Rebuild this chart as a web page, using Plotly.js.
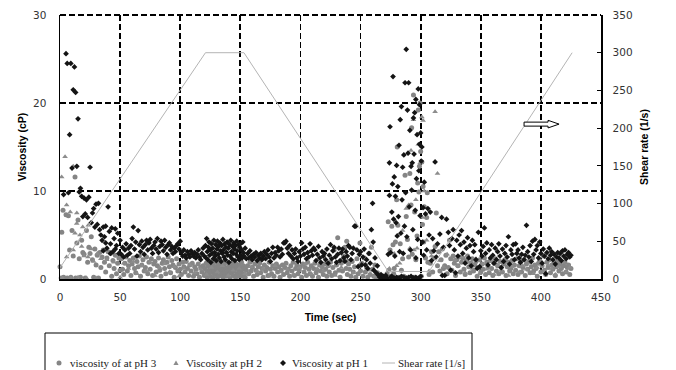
<!DOCTYPE html>
<html>
<head>
<meta charset="utf-8">
<script src="https://cdn.plot.ly/plotly-3.0.1.min.js"></script>
<style>
  html, body { margin: 0; padding: 0; background: #fff; }
  #chart { width: 676px; height: 370px; }
</style>
</head>
<body>
<div id="chart"></div>
<script>
// Viscosity readings [time (s), viscosity (cP)] for each pH, plus the applied shear-rate profile.
const viscosityPh3 = [
  [0,1.4],[1,0.1],[1.5,5.3],[2.5,7.8],[3,0.2],[5,7.3],[6,0.1],[7,7.2],[8,3.3],[9,0.2],[10,5.5],[11,2.6],[12.5,11.6],[13,0.1],[14,4.1],[15,6.7],[16,2.3],[17,0.2],[18,4.4],[19,3.0],
  [20,2.8],[21,0.1],[22,5.5],[23,1.9],[24,3.6],[25,2.9],[26,4.8],[27,2.2],[28,0.2],[29,3.4],[30,1.6],[31,2.7],[32,0.1],[33,3.0],[34,1.3],[35,2.5],[36,3.3],[37,1.9],[38,0.8],[39,2.4],
  [40,3.1],[41,1.5],[42,2.9],[43,0.3],[44,2.1],[45,1.2],[46,2.7],[47,0.6],[48,1.8],[49,2.4],[50,1.0],
  [51,2.3],[52,1.1],[53,0.5],[54,1.8],[55,2.5],[56,0.9],[57,1.5],[58,2.1],[59,0.4],[60,1.7],[61,2.4],[62,1.2],[63,0.7],[64,2.0],[65,1.4],[66,2.6],[67,0.3],[68,1.6],[69,2.2],[70,0.9],
  [71,1.3],[72,2.5],[73,0.6],[74,1.9],[75,1.1],[76,2.3],[77,0.4],[78,1.7],[79,2.0],[80,0.8],[81,1.5],[82,2.4],[83,1.0],[84,0.3],[85,1.8],[86,2.2],[87,1.2],[88,0.6],[89,1.9],[90,2.5],
  [91,1.4],[92,0.7],[93,2.1],[94,1.6],[95,0.2],[96,1.3],[97,2.3],[98,0.9],[99,1.7],[100,1.1],[101,0.5],[102,1.9],[103,1.4],[104,0.8],[105,2.0],[106,1.2],[107,0.4],[108,1.6],[109,0.9],[110,1.8],
  [111,0.3],[112,1.4],[113,1.1],[114,0.6],[115,1.7],[116,0.2],[117,1.3],[118,0.8],[119,1.5],[120,0.4],
  [120.5,1.2],[121,0.5],[121.5,1.8],[122,0.9],[122.5,0.2],[123,1.5],[123.5,0.7],[124,1.9],[124.5,1.1],[125,0.3],[125.5,1.6],[126,0.8],[126.5,1.3],[127,0.1],[127.5,1.7],[128,1.0],[128.5,0.5],[129,1.4],[129.5,2.0],[130,0.6],
  [130.5,1.2],[131,0.2],[131.5,1.6],[132,0.9],[132.5,1.4],[133,0.4],[133.5,1.8],[134,1.0],[134.5,0.6],[135,1.5],[135.5,0.2],[136,1.1],[136.5,1.7],[137,0.7],[137.5,1.3],[138,0.3],[138.5,1.9],[139,0.8],[139.5,1.2],[140,0.5],
  [140.5,1.6],[141,1.0],[141.5,0.1],[142,1.4],[142.5,0.7],[143,1.8],[143.5,1.1],[144,0.4],[144.5,1.5],[145,0.9],[145.5,1.3],[146,0.2],[146.5,1.7],[147,0.6],[147.5,1.2],[148,0.3],[148.5,1.6],[149,1.0],[149.5,0.5],[150,1.4],
  [150.5,0.8],[151,1.9],[151.5,0.3],[152,1.1],[152.5,1.5],[153,0.6],[153.5,1.2],[154,0.2],[155,1.0],
  [156,1.5],[157,0.6],[158,1.9],[159,0.9],[160,1.3],[161,0.3],[162,1.7],[163,1.0],[164,0.5],[165,1.4],[166,1.8],[167,0.7],[168,1.2],[169,0.2],[170,1.6],[171,0.9],[172,1.3],[173,0.4],[174,1.9],[175,1.1],
  [176,0.6],[177,1.5],[178,0.3],[179,1.2],[180,1.7],[181,0.8],[182,1.4],[183,0.2],[184,1.0],[185,1.6],[186,0.5],[187,1.3],[188,1.8],[189,0.7],[190,1.1],[191,0.3],[192,1.5],[193,0.9],[194,1.9],[195,0.4],
  [196,1.2],[197,1.6],[198,0.6],[199,1.0],[200,1.4],[201,0.2],[202,1.7],[203,0.8],[204,1.3],[205,0.4],[206,1.9],[207,1.1],[208,0.6],[209,1.5],[210,0.3],[211,1.2],[212,1.8],[213,0.7],[214,1.0],[215,0.2],
  [216,1.6],[217,0.9],[218,1.4],[219,0.5],[220,1.7],[221,1.1],[222,0.3],[223,1.5],[224,0.8],[225,1.9],[226,0.4],[227,1.3],[228,3.3],[229,0.7],[230,1.6],[231,4.7],[232,1.0],[233,0.2],[234,1.8],[235,0.9],
  [236,2.6],[237,3.6],[238,1.2],[238.5,4.3],[239,0.5],[240,1.7],[241,1.1],[242,0.3],[243,2.0],[244,0.8],[245,1.4],[246,0.2],[247,2.3],[248,0.6],[249,1.5],[249.5,4.1],[250,0.9],
  [251,1.8],[252,0.3],[253,2.4],[254,0.8],[255,1.3],[256,0.2],[257,2.9],[258,0.5],[259,3.6],[260,1.1],[261,0.3],[262,1.6],[263,0.1],[264,0.7],[265,0.2],[266,0.4],[267,0.1],[268,0.3],[269,0.1],[270,0.2],
  [271,0.1],[272,0.6],[273,6.5],[273.5,1.0],[274,0.2],[274.5,3.3],
  [275,0.3],[276,6.0],[277,3.9],[277.5,0.6],[278,1.2],[279,4.2],[280,9.0],[280.5,15.0],[281,6.1],[282,0.2],[283,4.0],[284,1.0],[285,2.3],[286,0.3],[287,11.8],[288,7.1],[288.5,0.1],[289,4.5],[290,2.5],[291,12.0],
  [292,8.4],[292.5,17.2],[293,2.8],[294,20.9],[294.5,0.2],[295,7.6],[296,2.2],[297,4.9],[297.5,10.9],[298,19.2],[298.5,9.9],[299,12.8],[299.5,20.0],[300,14.5],[300.5,0.3],[301,13.3],[301.5,6.2],[302,10.5],[302.5,4.2],[303,8.2],
  [304,2.4],[305,7.0],[305.5,9.8],[306,1.9],[307,0.5],[308,1.8],[309,3.1],[310,0.8],
  [311,2.4],[312,3.7],[313,7.5],[314,1.5],[315,3.1],[316,0.9],[317,2.2],[318,3.4],[319,1.2],[320,1.5],[321,2.7],[322,0.6],[323,1.3],[324,4.4],[325,2.3],[326,1.0],[327,2.6],[328,1.8],[329,0.4],[330,2.2],
  [331,1.5],[332,2.5],[333,0.8],[334,1.9],[335,2.4],[336,1.1],[337,0.5],[338,2.1],[339,2.6],[340,1.4],[341,0.7],[342,1.8],[343,2.3],[344,0.9],[345,1.6],[346,2.0],[347,0.3],[348,1.3],[349,2.2],[350,0.8],
  [351,1.7],[352,1.1],[353,2.4],[354,0.5],[355,1.9],[356,1.4],[357,0.7],[358,2.1],[359,1.2],[360,0.4],[361,1.8],[362,2.3],[363,0.9],[364,1.5],[365,0.6],[366,2.0],[367,1.3],[368,0.8],[369,1.7],[370,2.2],
  [371,0.4],[372,1.4],[373,1.9],[374,0.9],[375,1.2],[376,2.1],[377,0.6],[378,1.6],[379,1.0],[380,2.3],[381,0.5],[382,1.5],[383,1.9],[384,0.8],[385,1.3],[386,2.2],[387,0.4],[388,1.7],[389,1.1],[390,2.0],
  [391,0.7],[392,1.4],[393,2.4],[394,0.9],[395,1.6],[396,1.2],[397,0.3],[398,1.8],[399,2.1],[400,0.8],[401,1.5],[402,2.6],[403,1.0],[404,0.5],[405,1.9],[406,1.3],[407,2.2],[408,0.7],[409,1.6],[410,1.1],
  [411,1.9],[412,0.4],[413,1.4],[414,2.0],[415,0.9],[416,1.7],[417,1.2],[418,0.6],[419,1.5],[420,1.9],[421,0.8],[422,1.3],[423,1.6],[424,0.5],[425,1.2]
];

const viscosityPh2 = [
  [1.4,11.6],[2,0.1],[4.2,13.9],[5.5,8.4],[5.5,2.5],[8.5,7.6],[9,0.1],[11,12.8],[11,3.3],[12.5,5.2],[13.9,6.3],[14,7.5],[15,0.2],[16.6,5.0],[18,3.7],[18.9,5.9],[20,2.6],[22,0.1],[23.3,2.5],[23.5,6.1],
  [26,3.4],[28,2.0],[30,0.1],[31,2.9],[34,2.3],[37,3.2],[39,2.2],[42,3.0],[45,1.9],[48,2.6],[50,0.2],[53,1.8],[57,1.2],[61,2.0],[64,0.6],[68,1.5],[72,0.9],[75,1.9],[79,0.4],[83,1.3],
  [87,1.7],[91,0.8],[95,1.4],[99,0.3],[103,1.2],[108,1.6],[112,0.7],[117,1.1],[122,0.5],[126,1.3],[131,0.8],[135,1.5],[140,0.4],[144,1.0],[149,1.2],[154,0.6],[159,1.4],[164,0.9],[169,1.2],[174,0.3],
  [179,1.5],[184,0.8],[189,1.1],[194,0.5],[199,1.3],[204,1.7],[209,0.6],[214,1.2],[219,0.9],[224,1.5],[229,0.4],[234,1.3],[239,2.1],[244,0.7],[249,1.6],[254,2.4],[258,1.0],[262,0.3],[266,0.1],[270,0.2],
  [274,1.2],[278,2.9],[280,1.5],[282.5,1.8],[285,5.5],[288,8.0],[290,8.4],[291,3.5],[292,14.6],[294,18.1],[294.5,3.3],[296,9.0],[297,3.5],[298,15.3],[299.6,13.2],[301,18.4],[301.5,7.0],[302,18.0],[303,10.0],[305,4.4],
  [307,0.9],[309,2.6],[312,19.0],[314,12.0],[316,2.1],[319,1.4],[322,2.8],[325,0.9],[328,2.2],[331,1.5],[334,2.5],[337,0.7],[340,1.9],[343,1.2],[346,2.3],[349,0.6],[352,1.7],[355,1.1],[358,2.0],[361,0.5],
  [364,1.6],[367,1.0],[370,1.9],[373,0.4],[376,1.4],[379,2.2],[382,0.8],[385,1.5],[388,1.1],[391,1.8],[394,0.6],[397,1.3],[400,2.0],[403,0.9],[406,1.6],[409,1.2],[412,0.5],[415,1.4],[418,1.9],[421,0.8],
  [424,1.3]
];

const viscosityPh1 = [
  [3,9.6],[5,25.6],[6,24.5],[7,9.8],[8,16.4],[9,24.5],[10,12.6],[11,21.5],[12,24.1],[13,21.2],[14,12.8],[15,18.2],[16,9.9],[17,10.3],[18,9.4],[19,7.1],[20,9.2],[21,7.4],[22,9.0],[23,7.0],
  [24,9.3],[25,12.7],[26,6.4],[27,7.5],[28,8.0],[29,5.9],[30,8.5],[31,6.2],[32,8.6],[33,5.6],[34,5.0],[35,4.4],[36,5.9],[36,3.2],[37,4.8],[38,6.0],[38,4.1],[39,3.5],[40,8.2],[41,5.4],
  [42,4.0],[42,2.9],[43,5.8],[44,3.1],[45,4.6],[46,5.7],[46,3.4],[47,3.8],[48,5.2],[49,2.9],[50,4.4],
  [51,2.8],[52,3.6],[53,2.5],[54,3.3],[55,4.0],[56,2.7],[57,3.5],[58,2.9],[59,3.8],[60,4.6],[61,5.9],[62,3.4],[63,4.2],[64,2.6],[65,5.5],[66,3.9],[67,3.1],[68,4.3],[69,3.6],[70,2.8],
  [71,3.9],[72,4.4],[73,3.3],[74,4.1],[75,4.5],[76,3.5],[77,2.9],[78,3.8],[79,4.2],[80,3.4],[81,4.6],[82,3.0],[83,3.7],[84,4.3],[85,3.9],[86,3.2],[87,4.4],[88,3.6],[89,2.8],[90,3.9],
  [91,4.1],[92,3.3],[93,3.7],[94,2.9],[95,3.5],[96,3.1],[97,3.8],[98,4.0],[99,3.4],[100,4.3],[101,3.0],[102,2.6],[103,3.3],[104,2.7],[105,2.4],[106,3.1],[107,2.8],[108,2.5],[109,3.2],[110,2.9],
  [111,2.6],[112,3.0],[113,2.4],[114,2.8],[115,3.3],[116,2.5],[117,2.2],[118,2.9],[119,3.5],[120,2.6],
  [121,3.8],[121.5,2.4],[122,4.6],[122.5,3.1],[123,2.2],[123.5,3.6],[124,4.2],[124.5,2.7],[125,3.3],[125.5,1.9],[126,4.0],[126.5,2.9],[127,3.5],[127.5,2.3],[128,4.4],[128.5,3.0],[129,2.6],[129.5,3.9],[130,2.1],[130.5,3.4],
  [131,4.3],[131.5,2.8],[132,3.7],[132.5,2.4],[133,4.1],[133.5,3.2],[134,2.0],[134.5,3.8],[135,2.9],[135.5,4.5],[136,3.3],[136.5,2.5],[137,4.0],[137.5,2.2],[138,3.6],[138.5,3.0],[139,4.2],[139.5,2.7],[140,3.5],[140.5,1.9],
  [141,3.9],[141.5,2.6],[142,4.4],[142.5,3.1],[143,2.3],[143.5,3.7],[144,2.9],[144.5,4.1],[145,3.4],[145.5,2.1],[146,3.8],[146.5,2.8],[147,4.3],[147.5,3.2],[148,2.5],[148.5,3.9],[149,2.2],[149.5,3.6],[150,4.0],[150.5,2.7],
  [151,3.3],[151.5,2.4],[152,4.2],[152.5,3.0],[153,2.6],[154,3.5],[155,2.3],
  [156,2.9],[157,2.4],[158,3.2],[159,2.6],[160,2.2],[161,2.8],[162,2.5],[163,3.0],[164,2.1],[165,2.7],[166,2.4],[167,2.9],[168,2.2],[169,2.6],[170,3.1],[171,2.3],[172,2.8],[173,3.3],[174,2.5],[175,2.0],
  [176,2.9],[177,3.6],[178,2.4],[179,3.0],[180,2.7],[181,3.6],[182,3.2],[183,2.5],[184,3.4],[185,2.8],[186,4.1],[187,4.1],[188,4.3],[189,3.5],[190,2.9],[191,3.8],[192,2.6],[193,3.3],[194,2.3],[195,2.9],
  [196,3.4],[197,2.4],[198,2.0],[199,3.1],[200,2.6],
  [201,4.1],[202,3.4],[203,2.8],[204,3.6],[205,2.3],[206,3.0],[207,2.5],[208,4.0],[209,3.2],[210,2.7],[211,3.5],[212,3.3],[213,2.1],[214,2.8],[215,3.7],[216,2.4],[217,1.9],[218,3.1],[219,2.6],[220,2.9],
  [221,2.2],[222,3.4],[223,1.8],[224,2.7],[225,3.9],[226,2.3],[227,3.2],[228,3.6],[229,2.5],[230,1.9],[231,2.8],[232,3.5],[233,2.1],[234,3.0],[235,3.4],[236,2.4],[237,2.0],[238,3.1],[239,2.6],[240,3.8],
  [241,3.6],[242,2.2],[243,2.9],[244,3.5],[245,6.0],[246,6.0],[247,3.3],[248,1.4],[249,2.8],[250,3.1],
  [251,1.6],[252,2.5],[253,3.4],[254,1.6],[255,2.2],[256,1.2],[257,2.9],[258,1.8],[259,5.6],[260,8.6],[260.5,4.2],[261,1.0],[262,2.4],[263,0.7],[264,1.5],[265,0.4],[266,0.2],[267,0.5],[268,0.1],[269,0.3],
  [270,0.2],[271,0.4],[272,0.1],[273,2.8],[274,9.5],[275,0.2],[276,0.3],[278,0.1],[280,0.2],[282,0.1],[284,0.3],[286,0.2],[288,0.1],[290,0.2],[292,0.3],[294,0.1],[296,0.2],[298,0.1],[300,0.3],
  [274,13.2],[274.5,17.3],[275,3.0],[276,7.6],[276.5,10.8],[277,23.0],[277.5,6.8],[278,11.6],[278.5,2.6],[279,9.4],[279.5,6.4],[280,12.9],[280.5,4.9],[281,10.5],[281.5,7.1],[282,15.2],[282.5,3.1],[283,18.1],[283.5,5.2],[284,19.6],
  [284.5,9.0],[285,12.7],[285.5,2.9],[286,14.1],[286.5,6.0],[287,22.3],[287.5,9.8],[288,26.1],[288.5,4.8],[289,19.2],[289.5,14.3],[290,22.3],[290.5,8.2],[291,16.9],[291.5,3.3],[292,12.8],[292.5,10.1],[293,13.2],[293.5,5.6],[294,18.3],
  [294.5,14.2],[295,18.9],[295.5,7.8],[296,2.4],[296,20.4],[296.5,11.4],[297,16.4],[297.5,4.5],[298,21.6],[298.5,12.3],[299,15.3],[299,19.8],[299.5,7.2],[300,16.6],[300.5,13.4],[301,15.0],[301.5,4.2],[302,8.1],[302.5,2.7],[303,11.0],
  [304,7.4],[305,3.3],[306,8.0],[307,5.0],[308,7.6],[309,2.1],[310,4.6],
  [311,3.2],[312,13.3],[313,2.5],[314,4.0],[316,5.1],[317.5,7.0],[318,0.4],[319,3.6],[320,0.4],[321.5,6.8],[323,5.3],[324,3.8],[325,1.0],[326,4.6],[327,5.6],[328,3.3],[329,0.7],[330,4.4],[331,2.6],[332,5.0],
  [333,3.9],[334,5.5],[335,2.9],[336,4.2],[337,1.8],[338,3.5],[339,4.7],[340,2.4],[341,3.8],[342,1.5],[343,4.4],[344,3.1],[345,3.9],[346,2.2],[347,1.2],[348,5.3],[349,1.4],[350,3.2],[351,2.6],[352,3.7],
  [353,5.8],[354,2.9],[355,4.1],[356,1.6],[357,3.3],[358,2.4],[359,3.9],[360,2.7],[361,1.8],[362,3.5],[363,2.2],[364,3.1],[365,4.0],[366,2.6],[367,1.3],[368,3.4],[369,2.0],[370,2.9],[371,3.8],[372,2.5],
  [373,4.8],[374,1.7],[375,3.3],[376,2.8],[377,3.9],[378,2.2],[379,4.0],[380,2.9],
  [381,3.3],[382,2.4],[383,1.9],[384,2.8],[385,3.6],[386,2.2],[387,2.7],[388,6.1],[389,3.1],[390,2.5],[391,3.8],[392,2.0],[393,4.3],[394,2.8],[395,4.5],[396,3.3],[397,3.8],[398,2.4],[399,4.2],[400,2.9],
  [401,1.8],[402,3.4],[403,2.6],[404,0.6],[405,3.0],[406,2.3],[407,3.5],[408,2.7],[409,3.1],[410,2.2],[411,2.8],[412,1.7],[413,2.5],[414,3.0],[415,2.4],[416,2.9],[417,2.1],[418,3.2],[419,2.6],[420,3.3],
  [421,2.3],[422,2.8],[423,3.0],[424,2.5],[425,2.7]
];

// Programmed shear-rate ramp [time (s), shear rate (1/s)]
const shearRate = [[0,15],[121,300],[153,300],[273,10],[307,10],[426,300]];

const seriesNames = ['viscosity of at pH 3', 'Viscosity at pH 2', 'Viscosity at pH 1', 'Shear rate [1/s]'];
const xTicks = [0, 50, 100, 150, 200, 250, 300, 350, 400, 450];
const leftTicks = [0, 10, 20, 30];
const rightTicks = [0, 50, 100, 150, 200, 250, 300, 350];

const GRAY = '#858585';
const TRI_GRAY = '#8c8c8c';
const BLACK = '#141414';
const LINE_GRAY = '#b4b4b4';

const xs = pts => pts.map(p => p[0]);
const ys = pts => pts.map(p => p[1]);

function markerTrace(pts, name, symbol, color, size) {
  return {
    type: 'scatter', mode: 'markers', name: name,
    x: xs(pts), y: ys(pts),
    marker: { symbol: symbol, color: color, size: size, line: { width: 0 } },
    cliponaxis: false, showlegend: false, hoverinfo: 'x+y'
  };
}

const traces = [
  markerTrace(viscosityPh3, seriesNames[0], 'circle', GRAY, 5),
  markerTrace(viscosityPh2, seriesNames[1], 'triangle-up', TRI_GRAY, 5),
  markerTrace(viscosityPh1, seriesNames[2], 'diamond', BLACK, 4.4),
  {
    type: 'scatter', mode: 'lines', name: seriesNames[3],
    x: xs(shearRate), y: ys(shearRate), yaxis: 'y2',
    line: { color: LINE_GRAY, width: 1 }, showlegend: false
  }
];

// plot-area geometry (px) used to place the key below the chart
const PLOT = { left: 60, right: 601, top: 15, bottom: 279 };
const px2x = px => (px - PLOT.left) / (PLOT.right - PLOT.left);
const px2y = py => (PLOT.bottom - py) / (PLOT.bottom - PLOT.top);

const keyY = px2y(363);
const keyFont = { family: 'Liberation Serif', size: 11, color: '#222' };

const keyTexts = [
  { x: px2x(68), text: seriesNames[0] },
  { x: px2x(184), text: seriesNames[1] },
  { x: px2x(290), text: seriesNames[2] },
  { x: px2x(396), text: seriesNames[3] }
].map(k => ({
  xref: 'paper', yref: 'paper', x: k.x, y: keyY, text: k.text,
  xanchor: 'left', yanchor: 'middle', showarrow: false, font: keyFont
}));

const pixelShape = (xa, ya, extra) => Object.assign({
  xref: 'paper', yref: 'paper', xsizemode: 'pixel', ysizemode: 'pixel',
  xanchor: xa, yanchor: ya, line: { width: 0 }
}, extra);

const shapes = [
  // dashed top frame of the plot area
  { type: 'line', xref: 'paper', yref: 'paper', x0: 0, x1: 1, y0: 1, y1: 1,
    line: { color: '#000', width: 1.8, dash: '6px,3px' }, layer: 'below' },
  // key frame
  { type: 'rect', xref: 'paper', yref: 'paper', x0: px2x(45), x1: px2x(472), y0: px2y(333), y1: px2y(385),
    line: { color: '#000', width: 1 }, fillcolor: 'rgba(0,0,0,0)' },
  // key symbols
  pixelShape(px2x(59), keyY, { type: 'circle', x0: -2.5, x1: 2.5, y0: -2.5, y1: 2.5, fillcolor: GRAY }),
  pixelShape(px2x(176), keyY, { type: 'path', path: 'M-2.6,-2 L2.6,-2 L0,2.6 Z', fillcolor: TRI_GRAY }),
  pixelShape(px2x(283), keyY, { type: 'path', path: 'M0,3 L3,0 L0,-3 L-3,0 Z', fillcolor: BLACK }),
  { type: 'line', xref: 'paper', yref: 'paper', x0: px2x(382), x1: px2x(395), y0: keyY, y1: keyY,
    line: { color: LINE_GRAY, width: 1 } },
  // hollow arrow pointing at the shear-rate axis
  { type: 'path', xref: 'x', yref: 'y', xsizemode: 'pixel', ysizemode: 'pixel',
    xanchor: 386, yanchor: 17.6,
    path: 'M0,-2 L24,-2 L24,-3.8 L35,0 L24,3.8 L24,2 L0,2 Z',
    line: { color: '#000', width: 1 }, fillcolor: '#fff' }
];

const tickFont = { family: 'DejaVu Sans', size: 10.5, color: '#333' };
const titleFont = { family: 'Liberation Sans', size: 10.5, color: '#000', weight: 'bold' };

const layout = {
  width: 676, height: 370,
  margin: { l: PLOT.left, r: 676 - PLOT.right, t: PLOT.top, b: 370 - PLOT.bottom, pad: 0 },
  paper_bgcolor: '#fff', plot_bgcolor: '#fff',
  showlegend: false,
  xaxis: {
    range: [0, 450], tickvals: xTicks, ticktext: xTicks.map(String),
    showline: true, linecolor: '#000', linewidth: 1.5,
    showgrid: true, gridcolor: '#000', gridwidth: 1.8, griddash: '6px,3px',
    zeroline: false, ticks: '', ticklabelstandoff: 8, tickfont: tickFont,
    title: { text: 'Time (sec)', font: titleFont, standoff: 11 }
  },
  yaxis: {
    range: [0, 30], tickvals: leftTicks, ticktext: leftTicks.map(String),
    showline: true, linecolor: '#000', linewidth: 1.5,
    showgrid: true, gridcolor: '#000', gridwidth: 1.8, griddash: '6px,3px',
    zeroline: false, ticks: '', ticklabelstandoff: 10, tickfont: tickFont,
    title: { text: 'Viscosity (cP)', font: titleFont, standoff: 4 }
  },
  yaxis2: {
    range: [0, 350], tickvals: rightTicks, ticktext: rightTicks.map(String),
    overlaying: 'y', side: 'right', anchor: 'x',
    showline: true, linecolor: '#000', linewidth: 1.5,
    showgrid: false, zeroline: false,
    ticks: 'inside', ticklen: 4, tickcolor: '#000', ticklabelstandoff: 8, tickfont: tickFont,
    title: { text: 'Shear rate (1/s)', font: titleFont, standoff: 9 }
  },
  shapes: shapes,
  annotations: keyTexts
};

Plotly.newPlot('chart', traces, layout, { staticPlot: true, displayModeBar: false });
</script>
</body>
</html>
